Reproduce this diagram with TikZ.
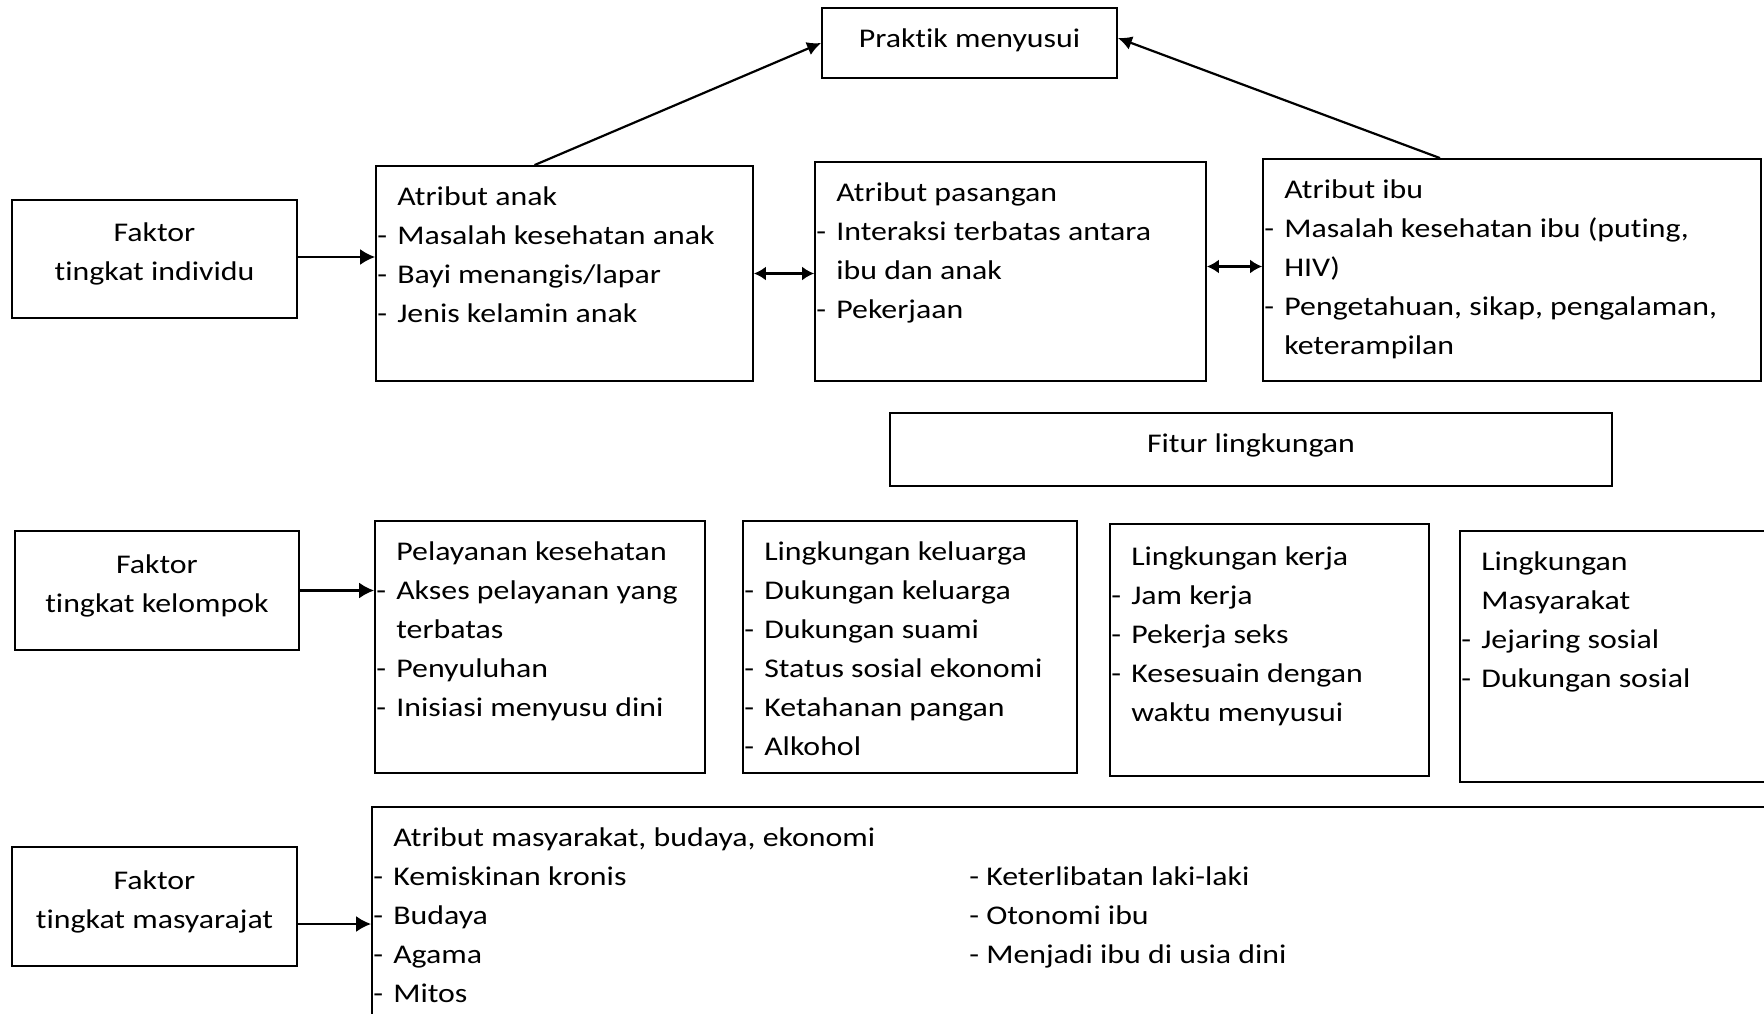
\documentclass[tikz,border=0pt]{standalone}
\usepackage{fontspec}
\setmainfont{Carlito}[FakeStretch=1.18, Ligatures=NoCommon]
\usetikzlibrary{arrows.meta}

\newcommand{\ind}{\hspace*{20pt}}
\newcommand{\dsh}{\makebox[20pt][l]{-}}
\newcommand{\fl}{\rule{0pt}{25pt}}

\tikzset{
  box/.style={rectangle, draw, line width=1.8pt, inner sep=0pt},
  txt/.style={anchor=north west, align=left, inner sep=0pt},
  ctxt/.style={align=center, inner sep=0pt},
  arr/.style={line width=2.2pt, -{Latex[length=15pt,width=16pt]}},
  darr/.style={line width=2.2pt, {Latex[length=12pt,width=14pt]}-{Latex[length=12pt,width=14pt]}},
}

\begin{document}
\begin{tikzpicture}[x=1pt, y=-1pt, font=\fontsize{27}{39}\selectfont]
    \clip (0,0) rectangle (1764,1014);

    % tingkat individu
    \node[box, minimum width=295pt, minimum height=70pt] (prak) at (969.5,43) {};
    \node[ctxt] (prakt) at ([yshift=3pt]prak.center) {Praktik menyusui};
    \node[box, minimum width=285pt, minimum height=118pt] (indiv) at (154.5,259) {};
    \node[ctxt] (indivt) at ([yshift=5pt]indiv.center) {Faktor\\tingkat individu};

    \node[box, minimum width=377pt, minimum height=215pt] (anak) at (564.5,273.5) {};
    \node[txt] (anakt) at ([shift={(2pt,-15pt)}]anak.north west)
        {\fl\ind Atribut anak\\\dsh Masalah kesehatan anak\\\dsh Bayi menangis/lapar\\\dsh Jenis kelamin anak};

    \node[box, minimum width=391pt, minimum height=219pt] (pas) at (1010.5,271.5) {};
    \node[txt] (past) at ([shift={(2pt,-15pt)}]pas.north west)
        {\fl\ind Atribut pasangan\\\dsh Interaksi terbatas antara\\\ind ibu dan anak\\\dsh Pekerjaan};

    \node[box, minimum width=498pt, minimum height=222pt] (ibu) at (1512,270) {};
    \node[txt] (ibut) at ([shift={(2pt,-15pt)}]ibu.north west)
        {\fl\ind Atribut ibu\\\dsh Masalah kesehatan ibu (puting,\\\ind HIV)\\\dsh Pengetahuan, sikap, pengalaman,\\\ind keterampilan};

    \draw[arr] ([yshift=2pt]indiv.east) -- ([yshift=2pt]indiv.east -| anak.west);
    \draw[darr] (anak.east) -- (anak.east -| pas.west);
    \draw[darr] ([yshift=5pt]pas.east) -- ([yshift=5pt]pas.east -| ibu.west);
    \draw[arr, -{Latex[length=14pt,width=14pt]}] ([xshift=-30pt]anak.north) -- (prak.west);
    \draw[arr, -{Latex[length=14pt,width=14pt]}] ([xshift=-72pt]ibu.north) -- ([yshift=5pt]prak.east);

    % tingkat kelompok
    \node[box, minimum width=722pt, minimum height=73pt] (fitur) at (1251,449.5) {};
    \node[ctxt] (fiturt) at ([yshift=4pt]fitur.center) {Fitur lingkungan};
    \node[box, minimum width=284pt, minimum height=119pt] (kel) at (157,590.5) {};
    \node[ctxt] (kelt) at ([yshift=5pt]kel.center) {Faktor\\tingkat kelompok};

    \node[box, minimum width=330pt, minimum height=252pt] (yan) at (540,647) {};
    \node[txt] (yant) at ([shift={(2pt,-15pt)}]yan.north west)
        {\fl\ind Pelayanan kesehatan\\\dsh Akses pelayanan yang\\\ind terbatas\\\dsh Penyuluhan\\\dsh Inisiasi menyusu dini};

    \node[box, minimum width=334pt, minimum height=252pt] (klg) at (910,647) {};
    \node[txt] (klgt) at ([shift={(2pt,-15pt)}]klg.north west)
        {\fl\ind Lingkungan keluarga\\\dsh Dukungan keluarga\\\dsh Dukungan suami\\\dsh Status sosial ekonomi\\\dsh Ketahanan pangan\\\dsh Alkohol};

    \node[box, minimum width=319pt, minimum height=252pt] (krj) at (1269.5,650) {};
    \node[txt] (krjt) at ([shift={(2pt,-17pt)}]krj.north west)
        {\fl\ind Lingkungan kerja\\\dsh Jam kerja\\\dsh Pekerja seks\\\dsh Kesesuain dengan\\\ind waktu menyusui};

    \node[box, minimum width=340pt, minimum height=251pt] (msy) at (1630,656.5) {};
    \node[txt] (msyt) at ([shift={(2pt,-15pt)}]msy.north west)
        {\fl\ind Lingkungan\\\ind Masyarakat\\\dsh Jejaring sosial\\\dsh Dukungan sosial};

    \draw[arr] (kel.east) -- (kel.east -| yan.west);

    % tingkat masyarakat
    \node[box, minimum width=285pt, minimum height=119pt] (msr) at (154.5,906.5) {};
    \node[ctxt] (msrt) at ([yshift=5pt]msr.center) {Faktor\\tingkat masyarajat};

    \node[box, minimum width=1440pt, minimum height=260pt] (atm) at (1092,937) {};
    \node[txt] (atmt) at ([shift={(2pt,-15pt)}]atm.north west)
        {\fl\ind Atribut masyarakat, budaya, ekonomi\\\dsh Kemiskinan kronis\\\dsh Budaya\\\dsh Agama\\\dsh Mitos};
    \node[txt] (atmt2) at ([shift={(598pt,-54pt)}]atm.north west)
        {\fl- Keterlibatan laki-laki\\- Otonomi ibu\\- Menjadi ibu di usia dini};

    \draw[arr] ([yshift=-17.5pt]msr.east) -- ([yshift=-17.5pt]msr.east -| atm.west);
\end{tikzpicture}
\end{document}
